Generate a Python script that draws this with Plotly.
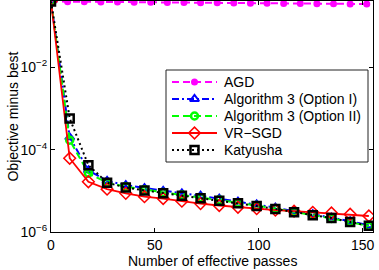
import plotly.graph_objects as go

# x positions (effective passes)
passes_9 = [0, 9, 18, 27, 36, 45, 54, 63, 72, 81, 90, 99, 108, 117, 126, 135, 144, 153]
passes_8 = [0, 8, 16, 24, 32, 40, 48, 56, 64, 72, 80, 88, 96, 104, 112, 120, 128, 136, 144, 152]

agd = [0.398, 0.395, 0.392, 0.389, 0.386, 0.384, 0.381, 0.378, 0.375, 0.372,
       0.369, 0.366, 0.363, 0.360, 0.357, 0.354, 0.352, 0.349, 0.347, 0.345]
alg3_opt1 = [0.398, 2.0e-4, 3.16e-5, 1.74e-5, 1.38e-5, 1.17e-5, 1.0e-5, 8.7e-6, 7.6e-6,
             6.5e-6, 5.5e-6, 4.7e-6, 3.9e-6, 3.2e-6, 2.7e-6, 2.24e-6, 1.82e-6, 1.45e-6]
alg3_opt2 = [0.398, 1.70e-4, 2.69e-5, 1.58e-5, 1.26e-5, 1.07e-5, 9.1e-6, 7.9e-6, 6.9e-6,
             6.0e-6, 5.1e-6, 4.4e-6, 3.7e-6, 3.1e-6, 2.57e-6, 2.14e-6, 1.74e-6, 1.38e-6]
vr_sgd = [0.398, 6.2e-5, 1.66e-5, 1.10e-5, 8.7e-6, 7.2e-6, 6.5e-6, 5.6e-6, 4.9e-6,
          4.4e-6, 4.0e-6, 3.7e-6, 3.4e-6, 3.2e-6, 3.0e-6, 2.9e-6, 2.7e-6, 2.45e-6]
katyusha = [0.398, 5.75e-4, 4.2e-5, 1.58e-5, 1.20e-5, 1.02e-5, 8.7e-6, 7.6e-6, 6.6e-6,
            5.75e-6, 5.0e-6, 4.27e-6, 3.63e-6, 3.02e-6, 2.57e-6, 2.19e-6, 1.74e-6, 1.41e-6]

series_names = ["AGD", "Algorithm 3 (Option I)", "Algorithm 3 (Option II)", "VR\u2212SGD", "Katyusha"]

x_ticks = [0, 50, 100, 150]
y_ticks = [1e-6, 1e-4, 1e-2]
y_tick_labels = ["10<sup>\u22126</sup>", "10<sup>\u22124</sup>", "10<sup>\u22122</sup>"]

FONT = "Liberation Sans, Arial, Helvetica, sans-serif"

DASH = "7px,4px"
DOT = "2px,3px"
DASHDOT = "7px,3px,2px,3px"

styles = [
    dict(line=dict(color="#ff00ff", width=2, dash=DASH),
         marker=dict(symbol="circle", size=7, color="#ff00ff")),
    dict(line=dict(color="#0000ff", width=2, dash=DASHDOT),
         marker=dict(symbol="triangle-up-open", size=8, color="#0000ff", line=dict(width=2))),
    dict(line=dict(color="#00ff00", width=2, dash=DASH),
         marker=dict(symbol="circle-open", size=7, color="#00ff00", line=dict(width=2.5))),
    dict(line=dict(color="#ff0000", width=1.8),
         marker=dict(symbol="diamond-open", size=9, color="#ff0000", line=dict(width=1.5))),
    dict(line=dict(color="#000000", width=2, dash=DOT),
         marker=dict(symbol="square-open", size=8, color="#000000", line=dict(width=2.5))),
]

xs = [passes_8, passes_9, passes_9, passes_9, passes_9]
ys = [agd, alg3_opt1, alg3_opt2, vr_sgd, katyusha]

fig = go.Figure()
for name, x, y, st in zip(series_names, xs, ys, styles):
    fig.add_trace(go.Scatter(x=x, y=y, name=name, mode="lines+markers",
                             showlegend=False, **st))

# ---- custom legend (layout chrome) drawn on an overlay axis spanning the plot area ----
L, R, T, B = 51, 373, 1, 232  # plot area in pixels


def fx(px):
    return (px - L) / (R - L)


def fy(py):
    return (B - py) / (B - T)


box_l, box_r, box_t, box_b = 166, 368, 70, 162
fig.add_trace(go.Scatter(
    x=[fx(box_l), fx(box_r), fx(box_r), fx(box_l), fx(box_l)],
    y=[fy(box_t), fy(box_t), fy(box_b), fy(box_b), fy(box_t)],
    mode="lines", fill="toself", fillcolor="white",
    line=dict(color="#222222", width=1), xaxis="x2", yaxis="y2",
    showlegend=False, hoverinfo="skip"))

row_y = [82, 99, 116, 133, 150]
for name, st, ry in zip(series_names, styles, row_y):
    fig.add_trace(go.Scatter(
        x=[fx(172), fx(217)], y=[fy(ry), fy(ry)], mode="lines",
        line=st["line"], xaxis="x2", yaxis="y2", showlegend=False, hoverinfo="skip"))
    fig.add_trace(go.Scatter(
        x=[fx(194.5)], y=[fy(ry)], mode="markers",
        marker=st["marker"], xaxis="x2", yaxis="y2", showlegend=False, hoverinfo="skip"))
    fig.add_annotation(text=name, xref="paper", yref="paper", x=fx(222), y=fy(ry),
                       xanchor="left", yanchor="middle", showarrow=False,
                       font=dict(family=FONT, size=14, color="black"))

axis_common = dict(showline=True, mirror="ticks", linecolor="black", linewidth=1,
                   ticks="inside", ticklen=4, tickcolor="black", showgrid=False,
                   zeroline=False, automargin=False,
                   tickfont=dict(family=FONT, size=14, color="black"))

fig.update_xaxes(range=[0, 155], tickvals=x_ticks, **axis_common)
fig.update_yaxes(type="log", range=[-6, -0.388], tickvals=y_ticks, ticktext=y_tick_labels,
                 **axis_common)

fig.add_annotation(text="Number of effective passes", xref="paper", yref="paper",
                   x=0.5, y=-0.125, xanchor="center", yanchor="middle", showarrow=False,
                   font=dict(family=FONT, size=14, color="black"))
fig.add_annotation(text="Objective minus best", xref="paper", yref="paper",
                   x=-0.121, y=0.5, xanchor="center", yanchor="middle", showarrow=False,
                   textangle=-90, font=dict(family=FONT, size=14, color="black"))

fig.update_layout(
    width=379, height=270,
    margin=dict(l=L, r=379 - R, t=T, b=270 - B, autoexpand=False),
    paper_bgcolor="white", plot_bgcolor="white",
    font=dict(family=FONT, size=14, color="black"),
    showlegend=False,
    xaxis2=dict(overlaying="x", range=[0, 1], visible=False, fixedrange=True),
    yaxis2=dict(overlaying="y", range=[0, 1], visible=False, fixedrange=True),
)

fig.write_html("out.html", config={"displayModeBar": False, "staticPlot": True},
               post_script="document.body.style.margin='0';document.body.style.padding='0';document.body.style.overflow='hidden';")
